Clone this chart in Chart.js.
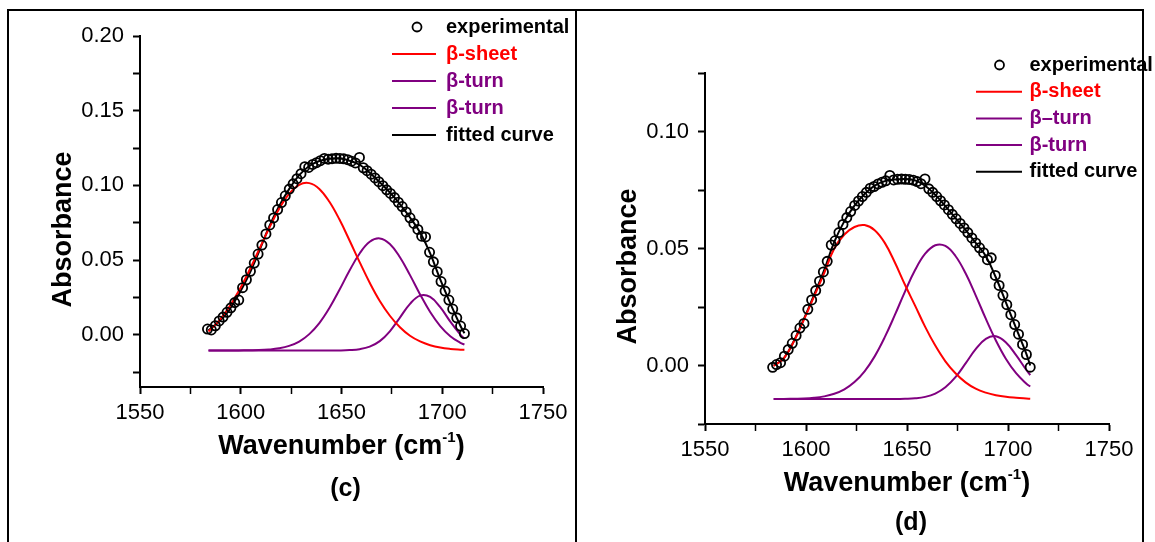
<!DOCTYPE html>
<html>
<head>
<meta charset="utf-8">
<script src="https://cdn.jsdelivr.net/npm/chart.js@4.4.1/dist/chart.umd.min.js"></script>
<style>
  html, body { margin: 0; padding: 0; background: #fff; }
  #wrap { position: relative; width: 1155px; height: 542px; overflow: hidden; }
  #wrap canvas { position: absolute; top: 0; }
  .rule { position: absolute; background: #000; }
</style>
</head>
<body>
<div id="wrap">
  <canvas id="chartC" width="577" height="542" style="left:0"></canvas>
  <canvas id="chartD" width="578" height="542" style="left:577px"></canvas>
  <div class="rule" style="left:7px;top:9px;width:1137px;height:2px"></div>
  <div class="rule" style="left:7px;top:9px;width:2px;height:533px"></div>
  <div class="rule" style="left:575px;top:9px;width:2px;height:533px"></div>
  <div class="rule" style="left:1142px;top:9px;width:2px;height:533px"></div>
</div>
<script>
// measured spectra, wavenumber in cm-1
const expWavenumber = [
  1583.5, 1585.4, 1587.4, 1589.3, 1591.2, 1593.2, 1595.1, 1597.0, 1599.0, 1600.9,
  1602.8, 1604.8, 1606.7, 1608.6, 1610.5, 1612.5, 1614.4, 1616.3, 1618.3, 1620.2,
  1622.1, 1624.1, 1626.0, 1627.9, 1629.9, 1631.8, 1633.7, 1635.7, 1637.6, 1639.5,
  1641.5, 1643.4, 1645.3, 1647.3, 1649.2, 1651.1, 1653.1, 1655.0, 1656.9, 1658.9,
  1660.8, 1662.7, 1664.7, 1666.6, 1668.5, 1670.5, 1672.4, 1674.3, 1676.3, 1678.2,
  1680.1, 1682.1, 1684.0, 1685.9, 1687.9, 1689.8, 1691.7, 1693.7, 1695.6, 1697.5,
  1699.4, 1701.4, 1703.3, 1705.2, 1707.2, 1709.1, 1711.0
];
const expAbsC = [
  0.0038, 0.0032, 0.0060, 0.0092, 0.0118, 0.0150, 0.0180, 0.0215, 0.0232, 0.0315,
  0.0368, 0.0425, 0.0480, 0.0540, 0.0600, 0.0675, 0.0735, 0.0782, 0.0838, 0.0885,
  0.0930, 0.0975, 0.1010, 0.1045, 0.1078, 0.1125, 0.1120, 0.1140, 0.1152, 0.1165,
  0.1180, 0.1175, 0.1179, 0.1181, 0.1180, 0.1178, 0.1172, 0.1162, 0.1150, 0.1187,
  0.1118, 0.1098, 0.1075, 0.1050, 0.1025, 0.0998, 0.0970, 0.0946, 0.0918, 0.0887,
  0.0858, 0.0822, 0.0783, 0.0745, 0.0705, 0.0660, 0.0655, 0.0552, 0.0488, 0.0422,
  0.0356, 0.0292, 0.0232, 0.0172, 0.0113, 0.0058, 0.0008
];
const expAbsD = [
  -0.0008, 0.0004, 0.0012, 0.0040, 0.0068, 0.0095, 0.0128, 0.0160, 0.0180, 0.0240,
  0.0280, 0.0320, 0.0360, 0.0400, 0.0445, 0.0515, 0.0533, 0.0568, 0.0603, 0.0632,
  0.0658, 0.0684, 0.0703, 0.0722, 0.0740, 0.0758, 0.0765, 0.0776, 0.0783, 0.0789,
  0.0812, 0.0793, 0.0796, 0.0797, 0.0796, 0.0795, 0.0792, 0.0786, 0.0777, 0.0797,
  0.0755, 0.0740, 0.0722, 0.0704, 0.0686, 0.0666, 0.0646, 0.0627, 0.0607, 0.0588,
  0.0568, 0.0545, 0.0524, 0.0503, 0.0482, 0.0452, 0.0460, 0.0385, 0.0342, 0.0300,
  0.0260, 0.0217, 0.0175, 0.0134, 0.0090, 0.0047, -0.0007
];

// band components and fitted envelope, sampled along fitGrid
const fitGrid = [
  1584, 1589, 1594, 1599, 1604, 1609, 1614, 1619, 1624, 1629, 1634, 1639, 1644, 1649,
  1654, 1659, 1664, 1669, 1674, 1679, 1684, 1689, 1694, 1699, 1704, 1709, 1711
];
const sheetC = [
  0.0022, 0.0090, 0.0180, 0.0292, 0.0423, 0.0567, 0.0711, 0.0841, 0.0943, 0.1004,
  0.1015, 0.0976, 0.0890, 0.0771, 0.0631, 0.0486, 0.0348, 0.0226, 0.0127, 0.0050,
  -0.0007, -0.0045, -0.0070, -0.0086, -0.0095, -0.0100, -0.0101
];
const turn1C = [
  -0.0105, -0.0105, -0.0105, -0.0105, -0.0104, -0.0103, -0.0099, -0.0091, -0.0075, -0.0046,
  0.0004, 0.0078, 0.0179, 0.0301, 0.0430, 0.0544, 0.0622, 0.0645, 0.0608, 0.0519,
  0.0399, 0.0270, 0.0152, 0.0058, -0.0010, -0.0054, -0.0066
];
const turn2C = [
  -0.0105, -0.0105, -0.0105, -0.0105, -0.0105, -0.0105, -0.0105, -0.0105, -0.0105, -0.0105,
  -0.0105, -0.0105, -0.0105, -0.0105, -0.0103, -0.0097, -0.0080, -0.0043, 0.0023, 0.0115,
  0.0207, 0.0262, 0.0253, 0.0184, 0.0088, 0.0001, -0.0026
];
const fittedC = [
  0.0030, 0.0085, 0.0160, 0.0270, 0.0400, 0.0555, 0.0720, 0.0860, 0.0975, 0.1068,
  0.1130, 0.1163, 0.1178, 0.1181, 0.1165, 0.1138, 0.1085, 0.1020, 0.0952, 0.0875,
  0.0785, 0.0685, 0.0545, 0.0370, 0.0210, 0.0060, 0.0010
];
const sheetD = [
  -0.0002, 0.0030, 0.0103, 0.0196, 0.0295, 0.0395, 0.0500, 0.0560, 0.0592, 0.0600,
  0.0578, 0.0524, 0.0440, 0.0345, 0.0256, 0.0165, 0.0085, 0.0018, -0.0033, -0.0072,
  -0.0099, -0.0116, -0.0127, -0.0134, -0.0138, -0.0141, -0.0142
];
const turn1D = [
  -0.0143, -0.0143, -0.0142, -0.0141, -0.0138, -0.0132, -0.0121, -0.0102, -0.0071, -0.0025,
  0.0039, 0.0121, 0.0216, 0.0316, 0.0408, 0.0478, 0.0514, 0.0511, 0.0468, 0.0394,
  0.0300, 0.0200, 0.0107, 0.0028, -0.0033, -0.0077, -0.0090
];
const turn2D = [
  -0.0143, -0.0143, -0.0143, -0.0143, -0.0143, -0.0143, -0.0143, -0.0143, -0.0143, -0.0143,
  -0.0143, -0.0143, -0.0143, -0.0142, -0.0140, -0.0134, -0.0120, -0.0093, -0.0050, 0.0009,
  0.0070, 0.0114, 0.0125, 0.0098, 0.0044, -0.0018, -0.0041
];
const fittedD = [
  0.0000, 0.0030, 0.0105, 0.0200, 0.0302, 0.0408, 0.0528, 0.0617, 0.0683, 0.0733,
  0.0769, 0.0788, 0.0795, 0.0797, 0.0791, 0.0768, 0.0729, 0.0681, 0.0630, 0.0580,
  0.0524, 0.0468, 0.0376, 0.0269, 0.0160, 0.0052, 0.0000
];

// labelled ticks
const xMajorTicks = [1550, 1600, 1650, 1700, 1750];
const yMajorTicksC = [0.00, 0.05, 0.10, 0.15, 0.20];
const yMajorTicksD = [0.00, 0.05, 0.10];

const legendC = ['experimental', 'β-sheet', 'β-turn', 'β-turn', 'fitted curve'];
const legendD = ['experimental', 'β-sheet', 'β–turn', 'β-turn', 'fitted curve'];

const FONT = '"Liberation Sans", Arial, Helvetica, sans-serif';
Chart.defaults.font.family = FONT;
Chart.defaults.color = '#000';

const RED = '#ff0000';
const PURPLE = '#800080';

const pairs = (xs, ys) => xs.map((x, i) => ({ x: x, y: ys[i] }));

// legend, axis titles and panel tag drawn straight onto the canvas
const panelDecor = {
  id: 'panelDecor',
  afterDraw(chart, args, o) {
    const ctx = chart.ctx;
    const a = chart.chartArea;
    const cx = (a.left + a.right) / 2;
    ctx.save();
    ctx.fillStyle = '#000';

    // y title
    ctx.save();
    ctx.font = 'bold 27px ' + FONT;
    ctx.textAlign = 'center';
    ctx.textBaseline = 'alphabetic';
    ctx.translate(a.left - 69.5, (a.top + a.bottom) / 2 + 18);
    ctx.rotate(-Math.PI / 2);
    ctx.fillText('Absorbance', 0, 0);
    ctx.restore();

    // x title with superscript
    const base = a.bottom + 66.5;
    ctx.textBaseline = 'alphabetic';
    ctx.textAlign = 'left';
    const big = 'bold 27px ' + FONT, small = 'bold 15px ' + FONT;
    ctx.font = big;
    const w1 = ctx.measureText('Wavenumber (cm').width;
    const w3 = ctx.measureText(')').width;
    ctx.font = small;
    const w2 = ctx.measureText('-1').width;
    let x = cx - (w1 + w2 + w3) / 2;
    ctx.font = big;
    ctx.fillText('Wavenumber (cm', x, base);
    x += w1;
    ctx.font = small;
    ctx.fillText('-1', x, base - 12);
    x += w2;
    ctx.font = big;
    ctx.fillText(')', x, base);

    // panel tag
    ctx.font = 'bold 25px ' + FONT;
    ctx.textAlign = 'center';
    ctx.fillText(o.tag, cx + 4, a.bottom + o.tagDy);

    // legend
    ctx.font = 'bold 20px ' + FONT;
    ctx.textAlign = 'left';
    ctx.textBaseline = 'middle';
    chart.data.datasets.forEach((ds, i) => {
      const y = o.rowY + i * o.rowDy;
      if (ds.showLine === false) {
        ctx.beginPath();
        ctx.arc(o.markX, y, 4.5, 0, Math.PI * 2);
        ctx.lineWidth = 1.8;
        ctx.strokeStyle = ds.borderColor;
        ctx.stroke();
      } else {
        ctx.beginPath();
        ctx.moveTo(o.lineFrom, y);
        ctx.lineTo(o.lineTo, y);
        ctx.lineWidth = 2;
        ctx.strokeStyle = ds.borderColor;
        ctx.stroke();
      }
      ctx.fillStyle = ds.borderColor;
      ctx.fillText(ds.label, o.textX, y);
    });
    ctx.restore();
  }
};

function makePanel(id, p) {
  const lineSet = (label, ys, color) => ({
    label: label,
    data: pairs(fitGrid, ys),
    borderColor: color,
    backgroundColor: color,
    borderWidth: 2,
    pointRadius: 0,
    showLine: true,
    tension: 0.4
  });
  return new Chart(document.getElementById(id).getContext('2d'), {
    type: 'line',
    data: {
      datasets: [
        {
          label: p.legend[0],
          data: pairs(expWavenumber, p.exp),
          showLine: false,
          pointStyle: 'circle',
          pointRadius: 4.6,
          pointBorderWidth: 1.8,
          borderColor: '#000',
          backgroundColor: 'rgba(0,0,0,0)'
        },
        lineSet(p.legend[1], p.sheet, RED),
        lineSet(p.legend[2], p.turn1, PURPLE),
        lineSet(p.legend[3], p.turn2, PURPLE),
        lineSet(p.legend[4], p.fitted, '#000')
      ]
    },
    options: {
      responsive: false,
      animation: false,
      layout: { padding: { left: 0, top: p.top, right: p.right, bottom: 0 } },
      plugins: {
        legend: { display: false },
        tooltip: { enabled: false },
        panelDecor: p.decor
      },
      scales: {
        x: {
          type: 'linear',
          min: 1550,
          max: 1750,
          afterFit: s => { s.height = p.xHeight; },
          border: { display: true, color: '#000', width: 2 },
          grid: {
            drawOnChartArea: false, drawTicks: true, tickLength: 7,
            tickColor: '#000',
            tickWidth: c => xMajorTicks.includes(c.tick.value) ? 2 : 1.5
          },
          ticks: {
            stepSize: 25,
            padding: 6,
            maxRotation: 0,
            autoSkip: false,
            font: { size: 22 },
            color: '#000',
            callback: v => xMajorTicks.includes(v) ? String(v) : ''
          }
        },
        y: {
          min: p.yMin,
          max: p.yMax,
          afterFit: s => { s.width = p.yWidth; },
          border: { display: true, color: '#000', width: 2 },
          grid: {
            drawOnChartArea: false, drawTicks: true, tickLength: 7,
            tickColor: '#000',
            tickWidth: 2
          },
          ticks: {
            stepSize: 0.025,
            includeBounds: false,
            padding: 9,
            autoSkip: false,
            font: { size: 22 },
            color: '#000',
            callback: v => {
              const hit = p.yMajor.find(m => Math.abs(m - v) < 1e-9);
              return hit === undefined ? '' : hit.toFixed(2);
            }
          }
        }
      }
    },
    plugins: [panelDecor]
  });
}

makePanel('chartC', {
  legend: legendC, exp: expAbsC,
  sheet: sheetC, turn1: turn1C, turn2: turn2C, fitted: fittedC,
  yMin: -0.035, yMax: 0.20, yMajor: yMajorTicksC,
  top: 36, right: 34, yWidth: 140, xHeight: 155,
  decor: { tag: '(c)', tagDy: 109, markX: 417, lineFrom: 392, lineTo: 436, textX: 446, rowY: 27, rowDy: 27 }
});

makePanel('chartD', {
  legend: legendD, exp: expAbsD,
  sheet: sheetD, turn1: turn1D, turn2: turn2D, fitted: fittedD,
  yMin: -0.025, yMax: 0.125, yMajor: yMajorTicksD,
  top: 73, right: 46, yWidth: 128, xHeight: 118,
  decor: { tag: '(d)', tagDy: 106, markX: 422.5, lineFrom: 399, lineTo: 445, textX: 452.5, rowY: 65, rowDy: 26.7 }
});
</script>
</body>
</html>
